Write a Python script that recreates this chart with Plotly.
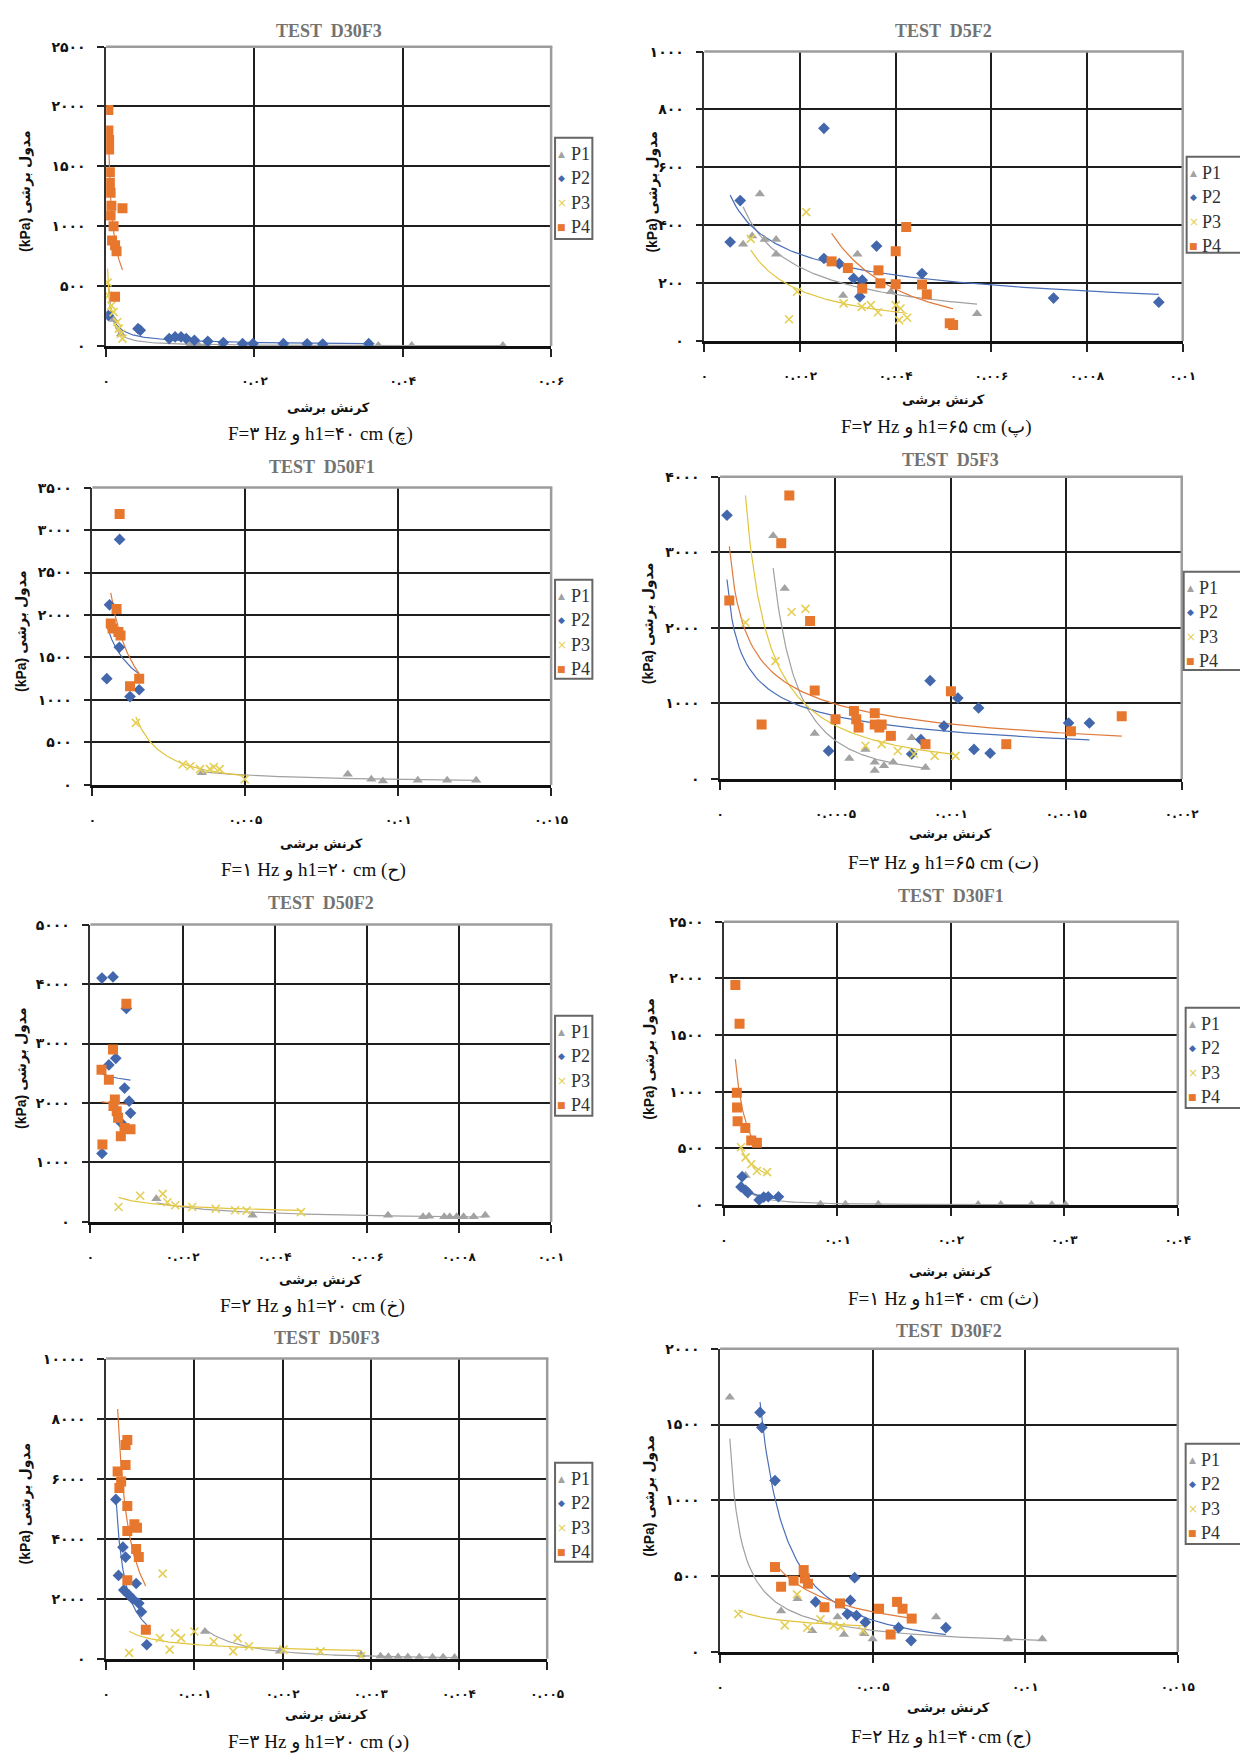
import numpy as np
import plotly.graph_objects as go

W, H = 1240, 1762

# ---------------- data (shear strain, shear modulus kPa) ----------------
D30F3_P1_X = [0.001, 0.002, 0.0114, 0.0124, 0.0135, 0.0156, 0.0187, 0.0367, 0.0412, 0.0535]
D30F3_P1_Y = [220, 100, 15, 12, 10, 8, 6, 4, 4, 3]
D30F3_P2_X = [0.0003, 0.0043, 0.0046, 0.0085, 0.0093, 0.0101, 0.0108, 0.0119, 0.0137, 0.0158, 0.0184, 0.0198, 0.0239, 0.0271, 0.0292, 0.0354]
D30F3_P2_Y = [254, 144, 130, 61, 75, 75, 61, 47, 39, 28, 19, 19, 19, 17, 15, 19]
D30F3_P3_X = [0.0002, 0.0003, 0.0007, 0.001, 0.0015, 0.0017, 0.002, 0.0022]
D30F3_P3_Y = [530, 420, 337, 282, 199, 144, 102, 61]
D30F3_P4_X = [0.0003, 0.0003, 0.0004, 0.0004, 0.0005, 0.0005, 0.0006, 0.0007, 0.0006, 0.0008, 0.0012, 0.0014, 0.0010, 0.0022, 0.0012]
D30F3_P4_Y = [1970, 1800, 1720, 1640, 1450, 1360, 1280, 1170, 1090, 880, 840, 790, 1000, 1150, 410]

D5F2_P1_X = [0.00081, 0.001, 0.00116, 0.00126, 0.0015, 0.0015, 0.0029, 0.0032, 0.0039, 0.0057]
D5F2_P1_Y = [334, 363, 508, 351, 351, 300, 157, 300, 170, 94]
D5F2_P2_X = [0.00054, 0.00075, 0.0025, 0.0025, 0.00282, 0.00312, 0.0033, 0.00325, 0.0036, 0.00455, 0.0073, 0.0095]
D5F2_P2_Y = [342, 485, 735, 285, 267, 216, 210, 153, 328, 233, 148, 134]
D5F2_P3_X = [0.00097, 0.00177, 0.00194, 0.00213, 0.00291, 0.00329, 0.00348, 0.00363, 0.004, 0.00407, 0.0041, 0.00424]
D5F2_P3_Y = [353, 75, 170, 445, 130, 118, 124, 99, 124, 72, 112, 80]
D5F2_P4_X = [0.00266, 0.003, 0.0033, 0.00364, 0.00368, 0.004, 0.004, 0.00422, 0.00455, 0.00465, 0.00513, 0.0052]
D5F2_P4_Y = [275, 252, 181, 244, 199, 310, 196, 394, 195, 161, 61, 55]

D50F1_P1_X = [0.00358, 0.00835, 0.00912, 0.0095, 0.01064, 0.0116, 0.01255]
D50F1_P1_Y = [144, 125, 66, 47, 55, 55, 55]
D50F1_P2_X = [0.00089, 0.00056, 0.00088, 0.00047, 0.00123, 0.00153]
D50F1_P2_Y = [2890, 2120, 1620, 1250, 1040, 1120]
D50F1_P3_X = [0.00142, 0.00295, 0.0032, 0.00352, 0.00384, 0.00397, 0.00416, 0.00498]
D50F1_P3_Y = [730, 240, 220, 185, 185, 210, 185, 66]
D50F1_P4_X = [0.00089, 0.00079, 0.0006, 0.00066, 0.00085, 0.00092, 0.00153, 0.00123]
D50F1_P4_Y = [3190, 2070, 1900, 1840, 1800, 1760, 1250, 1160]

D5F3_P1_X = [0.00023, 0.00028, 0.00041, 0.00056, 0.00063, 0.00067, 0.00067, 0.00071, 0.00075, 0.00083, 0.00089]
D5F3_P1_Y = [3220, 2520, 600, 270, 390, 110, 220, 175, 220, 545, 150]
D5F3_P2_X = [0.00003, 0.00047, 0.00083, 0.00087, 0.00091, 0.00097, 0.00103, 0.0011, 0.00112, 0.00117, 0.00151, 0.0016]
D5F3_P2_Y = [3490, 370, 330, 520, 1300, 700, 1070, 390, 940, 340, 740, 740]
D5F3_P3_X = [0.00011, 0.00024, 0.00031, 0.00037, 0.00063, 0.0007, 0.00077, 0.00084, 0.00093, 0.00102]
D5F3_P3_Y = [2070, 1560, 2210, 2250, 440, 460, 370, 330, 305, 305]
D5F3_P4_X = [0.00004, 0.00018, 0.000265, 0.0003, 0.00039, 0.00041, 0.0005, 0.00058, 0.00059, 0.0006, 0.00067, 0.00067, 0.00069, 0.0007, 0.00074, 0.00089, 0.001, 0.00124, 0.00152, 0.00174]
D5F3_P4_Y = [2360, 720, 3120, 3750, 2090, 1170, 790, 900, 790, 680, 870, 720, 680, 720, 570, 460, 1160, 460, 630, 830]

D50F2_P1_X = [0.00143, 0.00352, 0.00646, 0.00722, 0.00735, 0.00768, 0.0078, 0.00795, 0.0081, 0.00832, 0.00857]
D50F2_P1_Y = [390, 110, 110, 85, 95, 85, 85, 85, 85, 85, 110]
D50F2_P2_X = [0.00025, 0.00049, 0.00078, 0.00055, 0.0004, 0.00074, 0.00084, 0.00087, 0.00066, 0.00025]
D50F2_P2_Y = [4100, 4120, 3590, 2750, 2640, 2250, 2030, 1830, 1670, 1150]
D50F2_P3_X = [0.00061, 0.00108, 0.00157, 0.00167, 0.00184, 0.00221, 0.00272, 0.00314, 0.00339, 0.00457]
D50F2_P3_Y = [250, 440, 470, 330, 280, 250, 220, 195, 190, 165]
D50F2_P4_X = [0.00026, 0.00024, 0.0004, 0.00049, 0.00053, 0.00057, 0.0006, 0.00066, 0.00078, 0.00074, 0.00087, 0.0005]
D50F2_P4_Y = [1300, 2560, 2390, 2900, 2060, 1860, 1750, 1440, 3670, 1580, 1560, 1950]

D30F1_P1_X = [0.0019, 0.0085, 0.0107, 0.0136, 0.0224, 0.0244, 0.0271, 0.0289, 0.0301]
D30F1_P1_Y = [260, 8, 6, 6, 4, 4, 4, 3, 3]
D30F1_P2_X = [0.0016, 0.0015, 0.0019, 0.0021, 0.0031, 0.0035, 0.0039, 0.0048]
D30F1_P2_Y = [250, 160, 130, 110, 45, 70, 73, 73]
D30F1_P3_X = [0.0015, 0.0019, 0.0024, 0.0029, 0.0038]
D30F1_P3_Y = [510, 420, 360, 300, 290]
D30F1_P4_X = [0.0010, 0.00137, 0.00113, 0.00115, 0.0012, 0.00188, 0.0024, 0.0029]
D30F1_P4_Y = [1940, 1600, 990, 860, 740, 680, 570, 550]

D50F3_P1_X = [0.00112, 0.00197, 0.00289, 0.00311, 0.0032, 0.00331, 0.00342, 0.00355, 0.0037, 0.00382, 0.00395]
D50F3_P1_Y = [910, 250, 140, 90, 70, 60, 60, 50, 50, 50, 45]
D50F3_P2_X = [0.00011, 0.00019, 0.00022, 0.00014, 0.00034, 0.0002, 0.00026, 0.00037, 0.0004, 0.00046, 0.0003]
D50F3_P2_Y = [5310, 3720, 3390, 2780, 2510, 2290, 2120, 1850, 1570, 470, 2000]
D50F3_P3_X = [0.00026, 0.00064, 0.00061, 0.00072, 0.00078, 0.00085, 0.001, 0.00122, 0.00144, 0.00149, 0.00162, 0.00201, 0.00243, 0.00289]
D50F3_P3_Y = [200, 2840, 690, 310, 860, 690, 910, 580, 250, 690, 420, 310, 250, 90]
D50F3_P4_X = [0.00024, 0.00022, 0.00013, 0.00017, 0.00022, 0.00015, 0.00024, 0.00032, 0.00035, 0.00024, 0.00034, 0.00037, 0.00045, 0.00024]
D50F3_P4_Y = [7290, 7120, 6240, 5910, 6460, 5690, 5090, 4480, 4370, 4260, 3660, 3390, 970, 2620]

D30F2_P1_X = [0.00032, 0.002, 0.00254, 0.00302, 0.00385, 0.00406, 0.00473, 0.005, 0.00708, 0.00943, 0.01056]
D30F2_P1_Y = [1680, 270, 350, 140, 230, 115, 120, 85, 230, 85, 85]
D30F2_P2_X = [0.00131, 0.00137, 0.0018, 0.00313, 0.00417, 0.00427, 0.00441, 0.00447, 0.00476, 0.00585, 0.00626, 0.0074]
D30F2_P2_Y = [1580, 1480, 1130, 330, 250, 340, 490, 240, 195, 160, 75, 160]
D30F2_P3_X = [0.0006, 0.00212, 0.00252, 0.00286, 0.00329, 0.00372, 0.00395, 0.00468]
D30F2_P3_Y = [250, 175, 380, 160, 215, 175, 165, 140]
D30F2_P4_X = [0.0018, 0.002, 0.00241, 0.00274, 0.00278, 0.00288, 0.00342, 0.00393, 0.00521, 0.0058, 0.00598, 0.00628, 0.00559]
D30F2_P4_Y = [560, 430, 470, 540, 485, 450, 295, 320, 285, 330, 285, 220, 115]

SERIES_NAMES = ["P1", "P2", "P3", "P4"]
PANELS = ["D30F3", "D5F2", "D50F1", "D5F3", "D50F2", "D30F1", "D50F3", "D30F2"]

X_TICKS = {
    "D30F3": [0, 0.02, 0.04, 0.06],
    "D5F2": [0, 0.002, 0.004, 0.006, 0.008, 0.01],
    "D50F1": [0, 0.005, 0.01, 0.015],
    "D5F3": [0, 0.0005, 0.001, 0.0015, 0.002],
    "D50F2": [0, 0.002, 0.004, 0.006, 0.008, 0.01],
    "D30F1": [0, 0.01, 0.02, 0.03, 0.04],
    "D50F3": [0, 0.001, 0.002, 0.003, 0.004, 0.005],
    "D30F2": [0, 0.005, 0.01, 0.015],
}
Y_TICKS = {
    "D30F3": [0, 500, 1000, 1500, 2000, 2500],
    "D5F2": [0, 200, 400, 600, 800, 1000],
    "D50F1": [0, 500, 1000, 1500, 2000, 2500, 3000, 3500],
    "D5F3": [0, 1000, 2000, 3000, 4000],
    "D50F2": [0, 1000, 2000, 3000, 4000, 5000],
    "D30F1": [0, 500, 1000, 1500, 2000, 2500],
    "D50F3": [0, 2000, 4000, 6000, 8000, 10000],
    "D30F2": [0, 500, 1000, 1500, 2000],
}
CAPTIONS = {
    "D30F3": "F=۳ Hz و h1=۴۰ cm (چ)",
    "D5F2": "F=۲ Hz و h1=۶۵ cm (پ)",
    "D50F1": "F=۱ Hz و h1=۲۰ cm (ح)",
    "D5F3": "F=۳ Hz و h1=۶۵ cm (ت)",
    "D50F2": "F=۲ Hz و h1=۲۰ cm (خ)",
    "D30F1": "F=۱ Hz و h1=۴۰ cm (ث)",
    "D50F3": "F=۳ Hz و h1=۲۰ cm (د)",
    "D30F2": "F=۲ Hz و h1=۴۰cm (ج)",
}
Y_TITLE = "(kPa) مدول برشی"
X_TITLE = "کرنش برشی"

g = globals()
DATA = {p: [(g[f"{p}_{s}_X"], g[f"{p}_{s}_Y"]) for s in SERIES_NAMES] for p in PANELS}

# ---------------- geometry / style ----------------
GEOM = {
    #        x0    x1    y0    y1   title  ytx  xtitle cap   legend box (l, t, r, b)
    "D30F3": (104, 557, 39, 341, 23, 22, 403, 430, (561, 131, 599, 233)),
    "D5F2": (713, 1200, 44, 336, 23, 660, 395, 423, (1204, 150, 1260, 247)),
    "D50F1": (90, 557, 484, 784, 463, 18, 843, 870, (561, 577, 599, 677)),
    "D5F3": (729, 1199, 473, 778, 456, 657, 833, 863, (1201, 569, 1260, 668)),
    "D50F2": (88, 557, 925, 1225, 903, 18, 1283, 1310, (561, 1017, 599, 1118)),
    "D30F1": (733, 1195, 922, 1208, 896, 657, 1275, 1303, (1203, 1009, 1260, 1110)),
    "D50F3": (104, 553, 1363, 1666, 1342, 22, 1722, 1750, (561, 1468, 599, 1568)),
    "D30F2": (729, 1195, 1353, 1659, 1335, 657, 1715, 1745, (1203, 1449, 1260, 1550)),
}
COLORS = ["#a2a2a2", "#4267ad", "#e4cf57", "#e8772e"]
LINE_COLORS = ["#a0a0a0", "#4b70b8", "#e2c43c", "#df7a3c"]
SYMBOLS = ["triangle-up", "diamond", "x-thin-open", "square"]
SIZES = [9, 9, 8, 10]
GLYPHS = ["▲", "◆", "×", "■"]
FA = str.maketrans("0123456789", "۰۱۲۳۴۵۶۷۸۹")


def fa(v):
    return f"{v:g}".translate(FA)


def px(x):
    return x / W


def py(y):
    return 1 - y / H


fig = go.Figure()
layout = dict(width=W, height=H, margin=dict(l=0, r=0, t=0, b=0),
              paper_bgcolor="white", plot_bgcolor="white", showlegend=False)
shapes, annotations = [], []
xtick_font = dict(family="DejaVu Sans", size=12, color="#111", weight="bold")
ytick_font = dict(family="DejaVu Sans", size=14, color="#111", weight="bold")

for i, p in enumerate(PANELS):
    k = i + 1
    sfx = "" if k == 1 else str(k)
    xa, ya = "x" + sfx, "y" + sfx
    x0, x1, y0, y1, ty, ytx, xty, cy, leg = GEOM[p]
    xt, yt = X_TICKS[p], Y_TICKS[p]

    for s in range(4):
        xs = np.array(DATA[p][s][0], dtype=float)
        ys = np.array(DATA[p][s][1], dtype=float)
        b, a = np.polyfit(np.log(xs), np.log(ys), 1)
        xx = np.linspace(xs.min(), xs.max(), 150)
        fig.add_trace(go.Scatter(x=xx, y=np.exp(a) * xx ** b, mode="lines",
                                 line=dict(color=LINE_COLORS[s], width=1.2),
                                 xaxis=xa, yaxis=ya, hoverinfo="skip"))
    for s in range(4):
        xs, ys = DATA[p][s]
        mk = dict(symbol=SYMBOLS[s], size=SIZES[s], color=COLORS[s])
        if SYMBOLS[s] == "x-thin-open":
            mk["line"] = dict(color=COLORS[s], width=1.6)
        else:
            mk["line"] = dict(width=0)
        fig.add_trace(go.Scatter(x=xs, y=ys, mode="markers", name=SERIES_NAMES[s],
                                 marker=mk, xaxis=xa, yaxis=ya))

    layout["xaxis" + sfx] = dict(
        domain=[px(x0), px(x1)], range=[xt[0], xt[-1]], anchor=ya,
        tickvals=xt, ticktext=[fa(v) for v in xt], tickfont=xtick_font,
        showgrid=True, gridcolor="#1e1e1e", gridwidth=1.8, zeroline=False,
        showline=True, linecolor="#111", linewidth=2.5,
        ticks="outside", ticklen=8, tickwidth=2, tickcolor="#222",
        ticklabelstandoff=14, fixedrange=True)
    layout["yaxis" + sfx] = dict(
        domain=[py(y1), py(y0)], range=[yt[0], yt[-1]], anchor=xa,
        tickvals=yt, ticktext=[fa(v) for v in yt], tickfont=ytick_font,
        showgrid=True, gridcolor="#1e1e1e", gridwidth=1.8, zeroline=False,
        showline=True, linecolor="#333", linewidth=1.5,
        ticks="outside", ticklen=7, tickwidth=2, tickcolor="#222",
        ticklabelstandoff=9, fixedrange=True)

    # gray plot-area border (top and right)
    shapes.append(dict(type="line", xref="paper", yref="paper", x0=px(x0), x1=px(x1) + 0.001,
                       y0=py(y0), y1=py(y0), line=dict(color="#9c9c9c", width=2.5), layer="above"))
    shapes.append(dict(type="line", xref="paper", yref="paper", x0=px(x1), x1=px(x1),
                       y0=py(y1), y1=py(y0), line=dict(color="#9c9c9c", width=2.5), layer="above"))

    cx = px((x0 + x1) / 2)
    annotations.append(dict(text=f"TEST  {p}", x=cx, y=py(ty), xref="paper", yref="paper",
                            showarrow=False, xanchor="center", yanchor="middle",
                            font=dict(family="Liberation Serif", size=18, color="#737373", weight="bold")))
    annotations.append(dict(text=Y_TITLE, x=px(ytx), y=py((y0 + y1) / 2 - 5), xref="paper", yref="paper",
                            showarrow=False, textangle=-90, xanchor="center", yanchor="middle",
                            font=dict(family="Liberation Sans, DejaVu Sans", size=14, color="#111", weight="bold")))
    annotations.append(dict(text=X_TITLE, x=cx, y=py(xty), xref="paper", yref="paper",
                            showarrow=False, xanchor="center", yanchor="middle",
                            font=dict(family="DejaVu Sans", size=13, color="#111", weight="bold")))
    annotations.append(dict(text=CAPTIONS[p], x=cx - px(8), y=py(cy), xref="paper", yref="paper",
                            showarrow=False, xanchor="center", yanchor="middle",
                            font=dict(family="Liberation Serif, DejaVu Sans", size=19, color="#111")))

    # legend box
    ll, lt, lr, lb = leg
    shapes.append(dict(type="rect", xref="paper", yref="paper", x0=px(ll), x1=px(lr),
                       y0=py(lb), y1=py(lt), line=dict(color="#666", width=2), fillcolor="white",
                       layer="above"))
    for s in range(4):
        iy = lt + 16.5 + 24.5 * s
        annotations.append(dict(text=GLYPHS[s], x=px(ll + 7), y=py(iy), xref="paper", yref="paper",
                                showarrow=False, xanchor="center", yanchor="middle",
                                font=dict(family="DejaVu Sans", size=9 if s != 2 else 12, color=COLORS[s])))
        annotations.append(dict(text=SERIES_NAMES[s], x=px(ll + 14), y=py(iy), xref="paper", yref="paper",
                                showarrow=False, xanchor="left", yanchor="middle",
                                font=dict(family="Liberation Serif", size=18, color="#333")))

layout["shapes"] = shapes
layout["annotations"] = annotations
fig.update_layout(**layout)
fig.write_html("out.html")
